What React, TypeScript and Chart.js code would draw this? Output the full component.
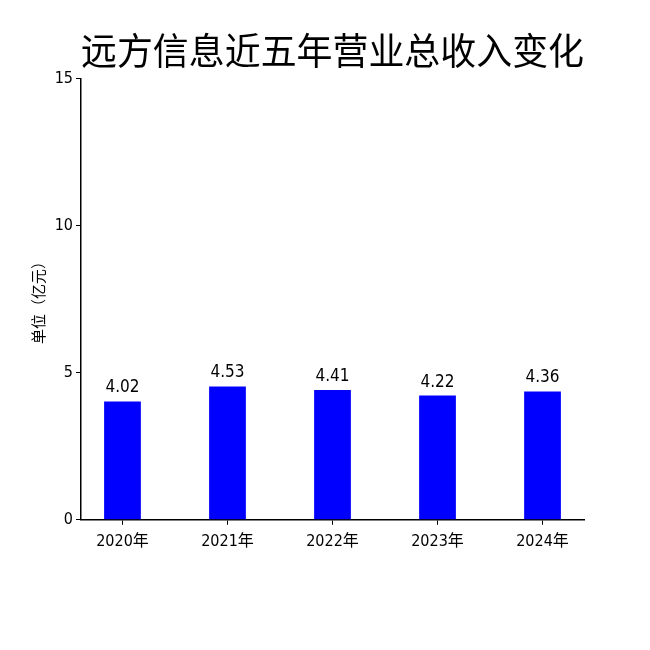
import { useEffect, useRef } from 'react';
import { Chart, registerables } from 'chart.js';

Chart.register(...registerables);

const years = ['2020年', '2021年', '2022年', '2023年', '2024年'];
const revenue = [4.02, 4.53, 4.41, 4.22, 4.36];
const yTicks = [0, 5, 10, 15];

const FONT = '"Liberation Sans Narrow", "DejaVu Sans Condensed", "Noto Sans CJK SC", sans-serif';

// value labels above each bar
const barLabels = {
  id: 'barLabels',
  afterDatasetsDraw(chart: Chart): void {
    const { ctx } = chart;
    const meta = chart.getDatasetMeta(0);
    ctx.save();
    ctx.font = `17px ${FONT}`;
    ctx.fillStyle = '#000';
    ctx.textAlign = 'center';
    ctx.textBaseline = 'bottom';
    meta.data.forEach((bar, i) => {
      ctx.fillText(revenue[i].toFixed(2), bar.x, bar.y - 5);
    });
    ctx.restore();
  },
};

export default function App(): JSX.Element {
  const canvasRef = useRef<HTMLCanvasElement>(null);

  useEffect(() => {
    if (!canvasRef.current) return;
    const chart = new Chart(canvasRef.current, {
      type: 'bar',
      plugins: [barLabels],
      data: {
        datasets: [
          {
            data: revenue.map((v, i) => ({ x: i, y: v })),
            backgroundColor: '#0000ff',
            borderWidth: 0,
            barPercentage: 0.35,
            categoryPercentage: 1,
          },
        ],
      },
      options: {
        animation: false,
        responsive: true,
        maintainAspectRatio: false,
        layout: { padding: { top: 18, right: 66, bottom: 92, left: 0 } },
        plugins: {
          legend: { display: false },
          tooltip: { enabled: false },
          title: {
            display: true,
            fullSize: false,
            text: '远方信息近五年营业总收入变化',
            color: '#000',
            font: { family: '"Noto Sans CJK SC", sans-serif', size: 37, weight: 'normal' },
            padding: { top: 11, bottom: 5 },
          },
        },
        scales: {
          x: {
            type: 'linear',
            offset: false,
            min: -0.395,
            max: 4.395,
            afterBuildTicks: scale => {
              scale.ticks = years.map((_, i) => ({ value: i }));
            },
            ticks: {
              color: '#000',
              font: { family: FONT, size: 16 },
              padding: 7,
              callback: v => years[Number(v)] ?? '',
            },
            grid: { display: true, offset: false, drawOnChartArea: false, drawTicks: true, tickLength: 5, color: '#000' },
            border: { display: true, color: '#000', width: 1.5 },
          },
          y: {
            min: 0,
            max: 15,
            afterBuildTicks: scale => {
              scale.ticks = yTicks.map(v => ({ value: v }));
            },
            afterFit: scale => {
              scale.width = 81;
            },
            ticks: {
              color: '#000',
              font: { family: FONT, size: 16 },
              padding: 3,
            },
            title: {
              display: true,
              text: '单位（亿元）',
              color: '#000',
              font: { family: '"Noto Sans CJK SC", sans-serif', size: 15 },
              padding: { top: 29, bottom: 0 },
            },
            grid: { display: true, drawOnChartArea: false, drawTicks: true, tickLength: 5, color: '#000' },
            border: { display: true, color: '#000', width: 1.5 },
          },
        },
      },
    });
    return () => { chart.destroy(); };
  }, []);

  return (
    <div style={{ position: 'fixed', left: 0, top: 0, width: '650px', height: '650px', background: '#fff' }}>
      <canvas ref={canvasRef} role="img" aria-label="远方信息近五年营业总收入变化" />
    </div>
  );
}
